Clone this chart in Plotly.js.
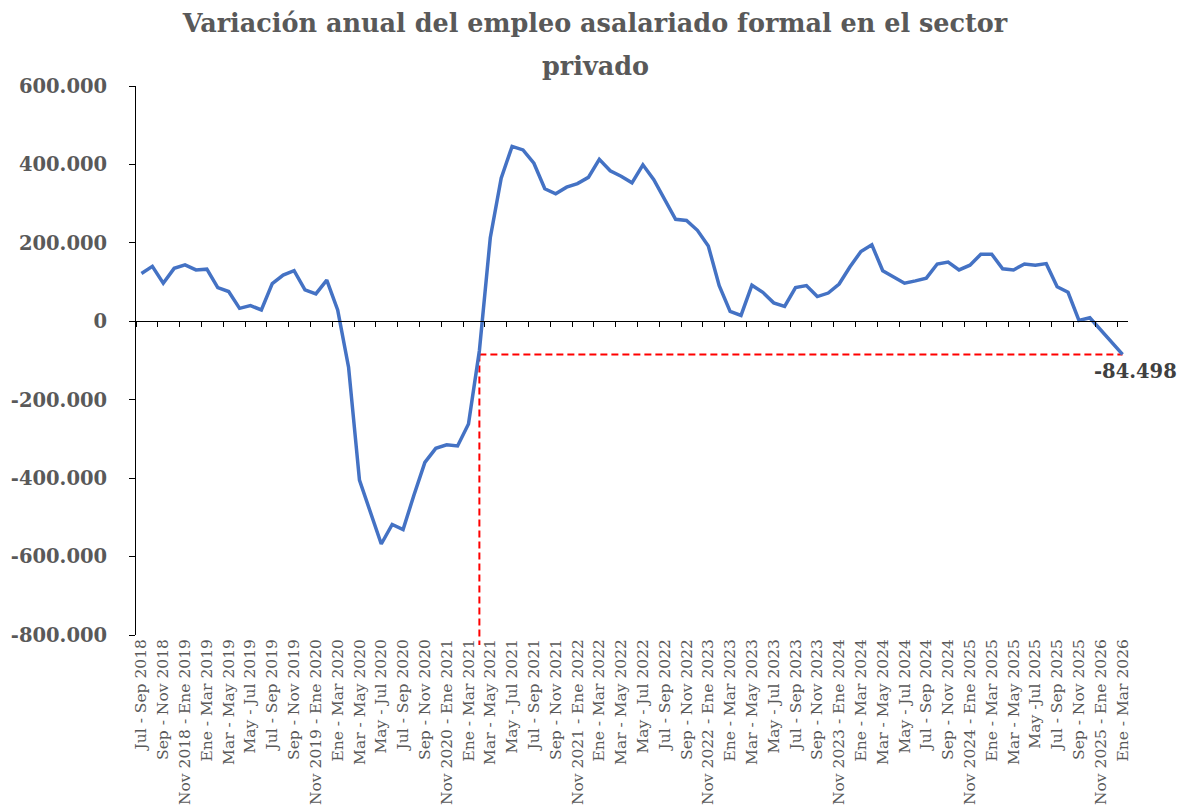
<!DOCTYPE html>
<html>
<head>
<meta charset="utf-8">
<script src="https://cdn.plot.ly/plotly-3.0.1.min.js"></script>
<style>html,body{margin:0;padding:0;background:#fff;}#chart{width:1183px;height:810px;}</style>
</head>
<body>
<div id="chart"></div>
<script>
// Periodos móviles trimestrales (91 observaciones)
const periods = [
  "Jul - Sep 2018","Ago - Oct 2018","Sep - Nov 2018","Oct - Dic 2018","Nov 2018 - Ene 2019","Dic 2018 - Feb 2019",
  "Ene - Mar 2019","Feb - Abr 2019","Mar - May 2019","Abr - Jun 2019","May - Jul 2019","Jun - Ago 2019",
  "Jul - Sep 2019","Ago - Oct 2019","Sep - Nov 2019","Oct - Dic 2019","Nov 2019 - Ene 2020","Dic 2019 - Feb 2020",
  "Ene - Mar 2020","Feb - Abr 2020","Mar - May 2020","Abr - Jun 2020","May - Jul 2020","Jun - Ago 2020",
  "Jul - Sep 2020","Ago - Oct 2020","Sep - Nov 2020","Oct - Dic 2020","Nov 2020 - Ene 2021","Dic 2020 - Feb 2021",
  "Ene - Mar 2021","Feb - Abr 2021","Mar - May 2021","Abr - Jun 2021","May - Jul 2021","Jun - Ago 2021",
  "Jul - Sep 2021","Ago - Oct 2021","Sep - Nov 2021","Oct - Dic 2021","Nov 2021 - Ene 2022","Dic 2021 - Feb 2022",
  "Ene - Mar 2022","Feb - Abr 2022","Mar - May 2022","Abr - Jun 2022","May - Jul 2022","Jun - Ago 2022",
  "Jul - Sep 2022","Ago - Oct 2022","Sep - Nov 2022","Oct - Dic 2022","Nov 2022 - Ene 2023","Dic 2022 - Feb 2023",
  "Ene - Mar 2023","Feb - Abr 2023","Mar - May 2023","Abr - Jun 2023","May - Jul 2023","Jun - Ago 2023",
  "Jul - Sep 2023","Ago - Oct 2023","Sep - Nov 2023","Oct - Dic 2023","Nov 2023 - Ene 2024","Dic 2023 - Feb 2024",
  "Ene - Mar 2024","Feb - Abr 2024","Mar - May 2024","Abr - Jun 2024","May - Jul 2024","Jun - Ago 2024",
  "Jul - Sep 2024","Ago - Oct 2024","Sep - Nov 2024","Oct - Dic 2024","Nov 2024 - Ene 2025","Dic 2024 - Feb 2025",
  "Ene - Mar 2025","Feb - Abr 2025","Mar - May 2025","Abr - Jun 2025","May - Jul 2025","Jun - Ago 2025",
  "Jul - Sep 2025","Ago - Oct 2025","Sep - Nov 2025","Oct - Dic 2025","Nov 2025 - Ene 2026","Dic 2025 - Feb 2026",
  "Ene - Mar 2026"
];

// Variación anual (personas)
const values = [
  122000, 140000, 97000, 135000, 144000, 131000, 133000, 86000, 76000, 33000,
  40000, 29000, 96000, 118000, 129000, 80000, 70000, 105000, 29000, -117000,
  -405000, -487000, -568000, -518000, -531000, -443000, -360000, -324000, -315000, -318000,
  -262000, -75000, 213000, 365000, 446000, 437000, 403000, 338000, 325000, 342000,
  351000, 367000, 413000, 384000, 370000, 353000, 399000, 361000, 310000, 260000,
  257000, 232000, 192000, 91000, 25000, 15000, 92000, 74000, 47000, 38000,
  86000, 91000, 63000, 72000, 95000, 139000, 178000, 195000, 129000, 114000,
  97000, 103000, 110000, 146000, 151000, 131000, 143000, 171000, 171000, 134000,
  131000, 146000, 143000, 147000, 88000, 74000, 2000, 9000, -22000, -53000,
  -84498
];

// Etiquetas visibles del eje X (cada dos periodos)
const xTickLabels = [
  "Jul - Sep 2018","Sep - Nov 2018","Nov 2018 - Ene 2019","Ene - Mar 2019","Mar - May 2019","May - Jul 2019",
  "Jul - Sep 2019","Sep - Nov 2019","Nov 2019 - Ene 2020","Ene - Mar 2020","Mar - May 2020","May - Jul 2020",
  "Jul - Sep 2020","Sep - Nov 2020","Nov 2020 - Ene 2021","Ene - Mar 2021","Mar - May 2021","May - Jul 2021",
  "Jul - Sep 2021","Sep - Nov 2021","Nov 2021 - Ene 2022","Ene - Mar 2022","Mar - May 2022","May - Jul 2022",
  "Jul - Sep 2022","Sep - Nov 2022","Nov 2022 - Ene 2023","Ene - Mar 2023","Mar - May 2023","May - Jul 2023",
  "Jul - Sep 2023","Sep - Nov 2023","Nov 2023 - Ene 2024","Ene - Mar 2024","Mar - May 2024","May - Jul 2024",
  "Jul - Sep 2024","Sep - Nov 2024","Nov 2024 - Ene 2025","Ene - Mar 2025","Mar - May 2025","May -Jul 2025",
  "Jul - Sep 2025","Sep - Nov 2025","Nov 2025 - Ene 2026","Ene - Mar 2026"
];

const yTickValues = [600000, 400000, 200000, 0, -200000, -400000, -600000, -800000];
const yTickLabels = ["600.000", "400.000", "200.000", "0", "-200.000", "-400.000", "-600.000", "-800.000"];

const titleLine1 = "Variación anual del empleo asalariado formal en el sector";
const titleLine2 = "privado";
const lastLabel = "-84.498";
const refIndex = 31; // Feb - Abr 2021

// ---- build ----
const idx = values.map((_, i) => i);
const lastIdx = values.length - 1;
const lastVal = values[lastIdx];
const yMin = -800000, yMax = 600000;
const xRange = [-0.5, lastIdx + 0.5];
const tickIdx = idx.filter(i => i % 2 === 0);
const minorTicks = [];
for (let t = -0.5; t <= lastIdx; t += 2) minorTicks.push(t);
const zeroPos = (0 - yMin) / (yMax - yMin);
const lastPaper = (lastVal - yMin) / (yMax - yMin);

const serif = "DejaVu Serif, Liberation Serif, serif";
const grey = "#595959";

const traces = [
  {
    x: [refIndex, lastIdx], y: [lastVal, lastVal], type: "scatter", mode: "lines",
    line: {color: "#FF0000", width: 2, dash: "7px,4px"},
    hoverinfo: "skip", showlegend: false
  },
  {
    x: idx, y: values, text: periods, type: "scatter", mode: "lines",
    line: {color: "#4472C4", width: 3.5},
    hovertemplate: "%{text}: %{y:,d}<extra></extra>",
    showlegend: false
  },
  {
    x: [0], y: [null], xaxis: "x2", yaxis: "y", type: "scatter", mode: "lines",
    hoverinfo: "skip", showlegend: false
  }
];

const layout = {
  width: 1183, height: 810,
  margin: {l: 136, r: 55, t: 86, b: 175, autoexpand: false},
  paper_bgcolor: "#ffffff", plot_bgcolor: "#ffffff",
  separators: ",.",
  title: {
    text: "<b>" + titleLine1 + "</b>",
    x: 595 / 1183, xanchor: "center", xref: "container",
    y: 1 - 23 / 810, yanchor: "middle", yref: "container",
    font: {family: serif, size: 25.5, color: grey}
  },
  xaxis: {
    type: "linear", range: xRange, showgrid: false, zeroline: false, showline: false,
    tickmode: "array", tickvals: tickIdx, ticktext: xTickLabels, tickangle: -90,
    ticks: "", tickfont: {family: serif, size: 15.5, color: grey}, automargin: false,
    fixedrange: true
  },
  xaxis2: {
    type: "linear", range: xRange, overlaying: "x", anchor: "free", position: zeroPos,
    showgrid: false, zeroline: false, showline: true, linecolor: "#000000", linewidth: 1,
    ticks: "outside", ticklen: 5, tickwidth: 1, tickcolor: "#000000",
    tickmode: "array", tickvals: minorTicks, showticklabels: false, automargin: false,
    fixedrange: true
  },
  yaxis: {
    range: [yMin, yMax], showgrid: false, zeroline: false,
    showline: true, linecolor: "#000000", linewidth: 1,
    ticks: "outside", ticklen: 6, tickwidth: 1, tickcolor: "#000000",
    tickmode: "array", tickvals: yTickValues, ticktext: yTickLabels,
    tickfont: {family: serif, size: 19.5, color: grey, weight: "bold"},
    ticklabelstandoff: 18, automargin: false, fixedrange: true
  },
  shapes: [
    {
      type: "line", xref: "x", yref: "paper",
      x0: refIndex, x1: refIndex, y0: lastPaper, y1: -0.018,
      line: {color: "#FF0000", width: 2, dash: "7px,4px"}, layer: "below"
    }
  ],
  annotations: [
    {
      text: "<b>" + titleLine2 + "</b>", xref: "paper", yref: "paper",
      x: (595 - 136) / 992, y: 1 + (86 - 66) / 549, xanchor: "center", yanchor: "middle",
      showarrow: false, font: {family: serif, size: 25.5, color: grey}
    },
    {
      text: "<b>" + lastLabel + "</b>", xref: "x", yref: "y",
      x: lastIdx, y: lastVal, xanchor: "center", yanchor: "top", xshift: 13, yshift: -4,
      showarrow: false, font: {family: serif, size: 19.5, color: "#404040"}
    }
  ],
  hovermode: "closest"
};

Plotly.newPlot("chart", traces, layout, {displayModeBar: false});
</script>
</body>
</html>
